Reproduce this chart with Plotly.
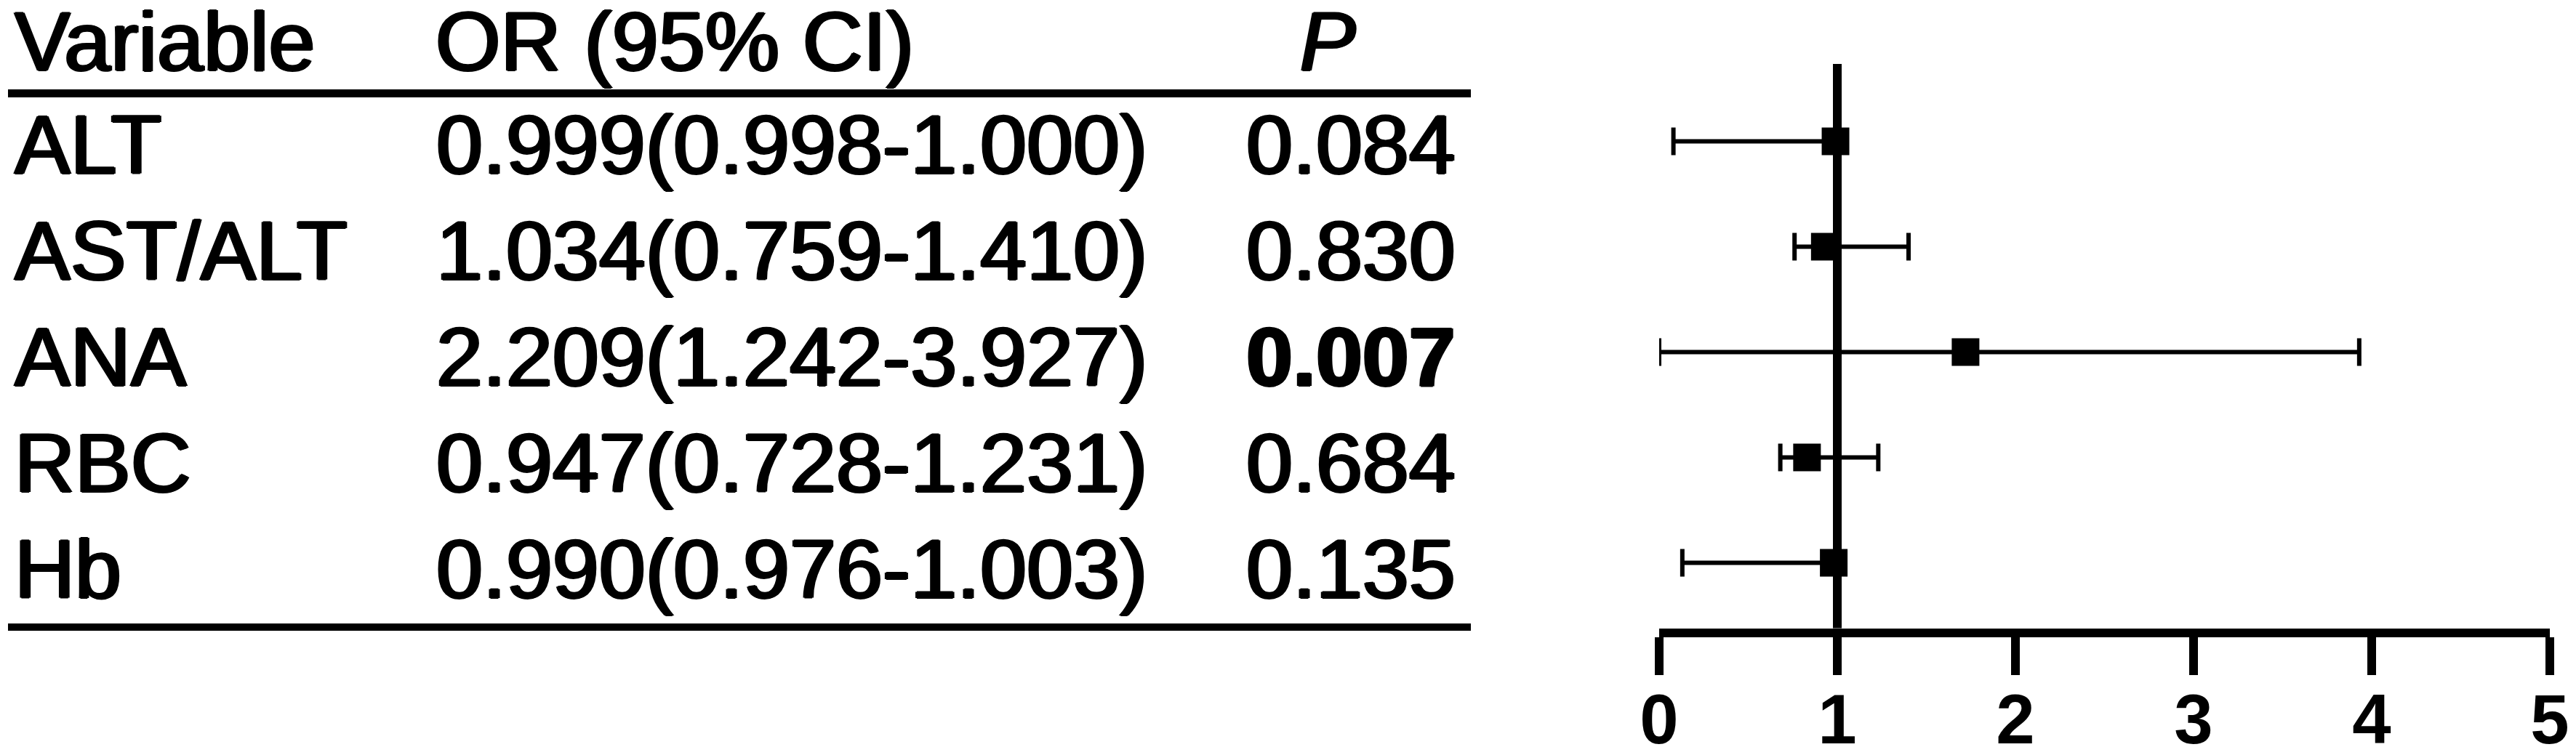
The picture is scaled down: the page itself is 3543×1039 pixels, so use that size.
import plotly.graph_objects as go

# ---------------- data ----------------
variables = ["ALT", "AST/ALT", "ANA", "RBC", "Hb"]
or_ci_text = ["0.999(0.998-1.000)", "1.034(0.759-1.410)", "2.209(1.242-3.927)",
              "0.947(0.728-1.231)", "0.990(0.976-1.003)"]
p_values = ["0.084", "0.830", "0.007", "0.684", "0.135"]
p_bold = [False, False, True, False, False]
header = ["Variable", "OR (95% CI)", "P"]

# values as drawn in the forest panel
plot_or = [0.99, 0.93, 1.72, 0.83, 0.98]
plot_low = [0.08, 0.76, 0.00, 0.68, 0.13]
plot_high = [1.00, 1.40, 3.93, 1.23, 1.00]
x_ticks = [0, 1, 2, 3, 4, 5]
ref_value = 1

# ---------------- layout constants ----------------
W, H = 3543, 1039
OFF = 8          # default body margin of the html page
FONT = "Liberation Sans, Arial, sans-serif"
FS = 115
SHADOW = "2px 0px 0px black, -2px 0px 0px black, 0px 1px 0px black, 0px -1px 0px black"
tfont = dict(family=FONT, size=FS, color="black", shadow=SHADOW)

# table rows: page pixel = ROW0 + ROWH * i
ROW0, ROWH = 210.5, 146.0
def row_of(py):
    return (py - ROW0) / ROWH

fig = go.Figure()

row_idx = list(range(len(variables)))
header_row = -0.976

fig.add_trace(go.Scatter(
    x=[20] * len(variables), y=row_idx, text=variables, mode="text",
    textposition="middle right", textfont=tfont,
    xaxis="x2", yaxis="y2", cliponaxis=False, hoverinfo="skip", showlegend=False))
fig.add_trace(go.Scatter(
    x=[600] * len(variables), y=row_idx, text=or_ci_text, mode="text",
    textposition="middle right", textfont=tfont,
    xaxis="x2", yaxis="y2", cliponaxis=False, hoverinfo="skip", showlegend=False))
fig.add_trace(go.Scatter(
    x=[1714] * len(variables), y=row_idx,
    text=[f"<b>{p}</b>" if b else p for p, b in zip(p_values, p_bold)], mode="text",
    textposition="middle right", textfont=tfont,
    xaxis="x2", yaxis="y2", cliponaxis=False, hoverinfo="skip", showlegend=False))
# header
fig.add_trace(go.Scatter(
    x=[20, 599], y=[header_row, header_row], text=header[:2], mode="text",
    textposition="middle right", textfont=tfont,
    xaxis="x2", yaxis="y2", cliponaxis=False, hoverinfo="skip", showlegend=False))
fig.add_trace(go.Scatter(
    x=[1826], y=[header_row], text=[f"<i>{header[2]}</i>"], mode="text",
    textposition="middle center", textfont=tfont,
    xaxis="x2", yaxis="y2", cliponaxis=False, hoverinfo="skip", showlegend=False))

# table rules
fig.add_shape(type="line", xref="x2", yref="y2", x0=11, x1=2023,
              y0=row_of(128.5), y1=row_of(128.5), line=dict(color="black", width=11))
fig.add_shape(type="line", xref="x2", yref="y2", x0=11, x1=2023,
              y0=row_of(863), y1=row_of(863), line=dict(color="black", width=10))

# ---- forest plot ----
err_plus = [h - o for h, o in zip(plot_high, plot_or)]
err_minus = [o - l for o, l in zip(plot_or, plot_low)]
fig.add_trace(go.Scatter(
    x=plot_or, y=variables, mode="markers",
    marker=dict(symbol="square", size=38, color="black", line=dict(width=0)),
    error_x=dict(type="data", symmetric=False, array=err_plus, arrayminus=err_minus,
                 color="black", thickness=6, width=19),
    xaxis="x", yaxis="y", cliponaxis=False, showlegend=False))

# reference line at OR = 1
fig.add_shape(type="line", xref="x", yref="y domain", x0=ref_value, x1=ref_value,
              y0=0, y1=1, line=dict(color="black", width=12), layer="below")

# page-pixel geometry of the forest panel
x0_px, x1_px = 2282, 3507
y_top_px, y_bot_px = 88, 864.5
M0, MH = 194.5, 145.0   # marker row 0 centre and row spacing (page px)

def px_x(p):
    return (p - OFF) / W
def px_y(p):
    return 1 - (p - OFF) / H

fig.update_layout(
    width=W, height=H,
    margin=dict(l=0, r=0, t=0, b=0, pad=0, autoexpand=False),
    paper_bgcolor="white", plot_bgcolor="rgba(0,0,0,0)",
    showlegend=False,
    xaxis=dict(
        domain=[px_x(x0_px), px_x(x1_px)], range=[x_ticks[0], x_ticks[-1]],
        tickvals=x_ticks, ticktext=[str(t) for t in x_ticks],
        showline=True, linewidth=12, linecolor="black",
        ticks="outside", ticklen=52, tickwidth=12, tickcolor="black",
        ticklabelstandoff=-21,
        showgrid=False, zeroline=False, anchor="y", automargin=False,
        tickfont=dict(family=FONT, size=96, color="black", weight="bold"),
    ),
    yaxis=dict(
        domain=[px_y(y_bot_px), px_y(y_top_px)],
        type="category", categoryorder="array", categoryarray=variables,
        range=[(y_bot_px - M0) / MH, (y_top_px - M0) / MH],
        visible=False, anchor="x", automargin=False,
        showgrid=False, zeroline=False,
    ),
    xaxis2=dict(domain=[0, 1], range=[OFF, W + OFF], visible=False, anchor="y2",
                automargin=False, showgrid=False, zeroline=False),
    yaxis2=dict(domain=[0, 1], range=[row_of(H + OFF), row_of(OFF)], visible=False,
                anchor="x2", automargin=False, showgrid=False, zeroline=False),
)

fig.write_html("out.html")
